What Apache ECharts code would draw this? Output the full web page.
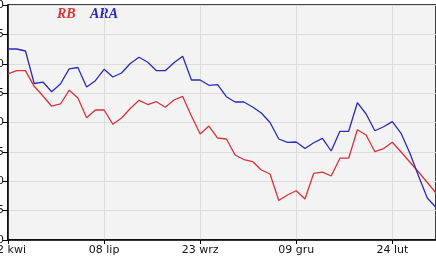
<!DOCTYPE html>
<html><head><meta charset="utf-8">
<script src="https://cdn.jsdelivr.net/npm/echarts@6/dist/echarts.min.js"></script>
<style>html,body{margin:0;padding:0;background:#fff}#c{width:436px;height:260px}</style>
</head><body><div id="c"></div>
<script>
var tickLabels = ['02 kwi', '08 lip', '23 wrz', '09 gru', '24 lut'];
var seriesNames = ['RB', 'ARA'];
var rb = [28.26, 28.82, 28.82, 26.16, 24.51, 22.77, 23.15, 25.48, 24.17, 20.80,
          22.13, 22.13, 19.71, 20.77, 22.38, 23.78, 23.06, 23.54, 22.59, 23.83,
          24.43, 21.11, 18.04, 19.40, 17.36, 17.19, 14.47, 13.70, 13.36, 11.91,
          11.23, 6.72, 7.66, 8.39, 6.98, 11.35, 11.54, 10.89, 13.92, 13.92,
          18.77, 17.87, 15.03, 15.57, 16.63, 14.98, 13.28, 11.57, 9.79, 8.00];
var ara = [32.51, 32.51, 32.17, 26.64, 26.89, 25.24, 26.55, 29.14, 29.36, 26.04,
           27.11, 29.05, 27.74, 28.43, 30.04, 31.10, 30.25, 28.82, 28.82, 30.18,
           31.27, 27.23, 27.23, 26.33, 26.43, 24.39, 23.49, 23.49, 22.64, 21.62,
           20.00, 17.19, 16.63, 16.68, 15.57, 16.56, 17.31, 15.15, 18.50, 18.50,
           23.37, 21.45, 18.60, 19.28, 20.14, 18.16, 14.81, 10.89, 7.15, 5.53];
var labelEvery = 11;
var categories = rb.map(function (v, i) {
  return (i % labelEvery === 0) ? (tickLabels[i / labelEvery] || '') : ('p' + i);
});
var colors = ['#d8333b', '#2b2bb8'];

var chart = echarts.init(document.getElementById('c'), null, {renderer: 'canvas'});
chart.setOption({
  animation: false,
  backgroundColor: '#ffffff',
  grid: {left: 8, right: 0, top: 5, bottom: 20, containLabel: false, outerBoundsMode: 'none',
         show: true, backgroundColor: '#f3f3f3', borderColor: '#000', borderWidth: 1.5},
  xAxis: {
    type: 'category', data: categories, boundaryGap: false,
    axisLine: {lineStyle: {color: '#000', width: 1.5}},
    axisTick: {show: true, interval: labelEvery - 1, length: 4, lineStyle: {color: '#000'}},
    axisLabel: {interval: labelEvery - 1, color: '#111', fontFamily: 'DejaVu Sans', fontSize: 11, margin: 5,
                hideOverlap: false},
    splitLine: {show: true, interval: labelEvery - 1, lineStyle: {color: '#dcdcdc', width: 1}}
  },
  yAxis: {
    type: 'value', min: 0, max: 40, interval: 5,
    axisLine: {show: true, lineStyle: {color: '#000', width: 1.5}},
    axisTick: {show: true, length: 5, lineStyle: {color: '#000'}},
    axisLabel: {color: '#111', fontFamily: 'DejaVu Sans', fontSize: 11, margin: 4},
    splitLine: {show: true, lineStyle: {color: '#dcdcdc', width: 1}}
  },
  graphic: [
    {type: 'text', left: 57, top: 7, style: {text: seriesNames[0], fill: colors[0],
      font: 'italic bold 14px "Liberation Serif"'}},
    {type: 'text', left: 90, top: 7, style: {text: seriesNames[1], fill: colors[1],
      font: 'italic bold 14px "Liberation Serif"'}}
  ],
  series: [
    {name: seriesNames[0], type: 'line', data: rb, showSymbol: false, symbol: 'none',
     lineStyle: {color: colors[0], width: 1.3}, z: 3},
    {name: seriesNames[1], type: 'line', data: ara, showSymbol: false, symbol: 'none',
     lineStyle: {color: colors[1], width: 1.3}, z: 4}
  ]
});
</script>
</body></html>
